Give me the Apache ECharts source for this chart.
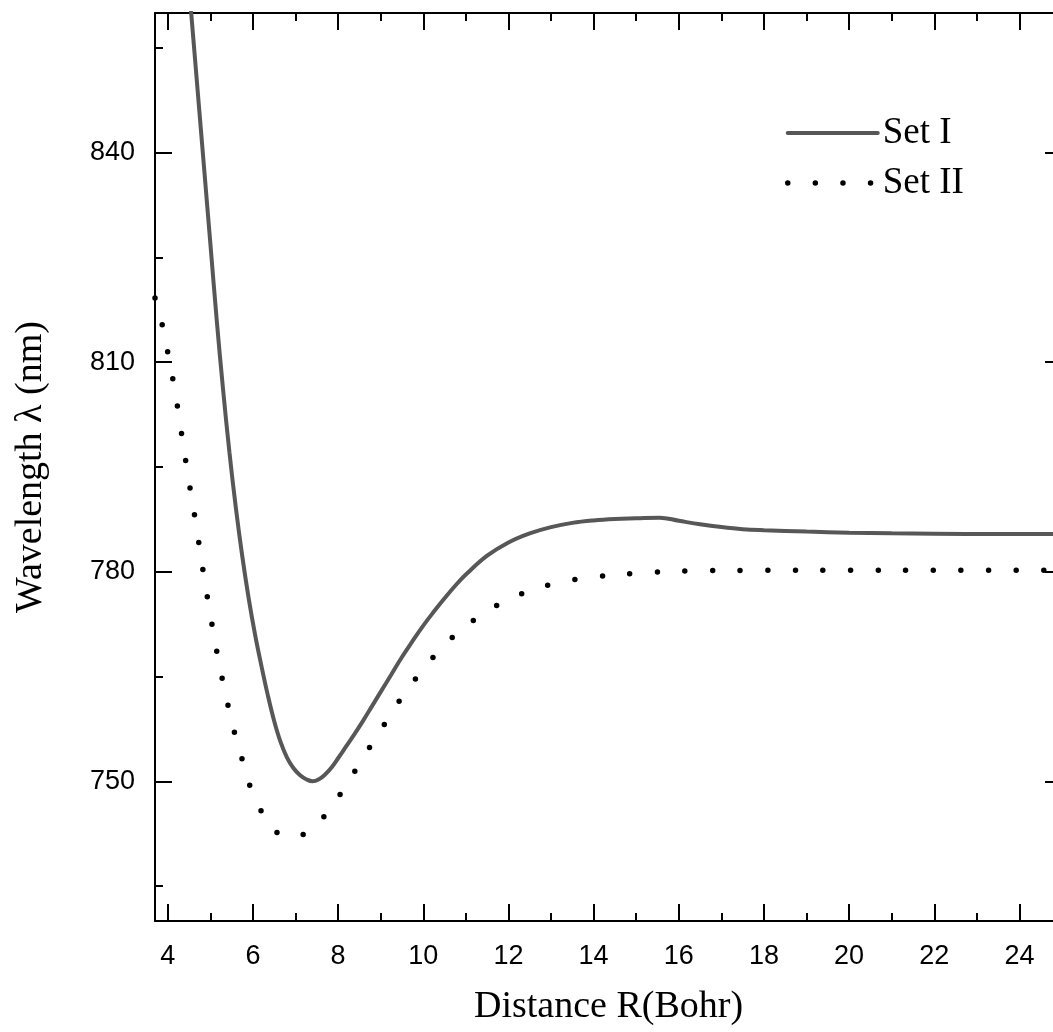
<!DOCTYPE html>
<html>
<head>
<meta charset="utf-8">
<script src="https://cdn.jsdelivr.net/npm/echarts@6/dist/echarts.min.js"></script>
<style>
html,body{margin:0;padding:0;background:#fff;}
#c{width:1053px;height:1032px;}
</style>
</head>
<body>
<div id="c"></div>
<script>
// ---- data ----
const seriesNames = ['Set I', 'Set II'];

const rSet1 = [4.40, 4.55, 4.70, 4.85, 5.00, 5.15, 5.30, 5.45, 5.60, 5.75, 5.90, 6.05, 6.20, 6.35, 6.50, 6.65, 6.80, 6.95, 7.10, 7.25, 7.40, 7.55, 7.70, 7.85, 8.00, 8.20, 8.40, 8.60, 8.80, 9.00, 9.25, 9.50, 9.75, 10.00, 10.25, 10.50, 10.75, 11.00, 11.50, 12.00, 12.50, 13.00, 13.50, 14.00, 14.50, 15.00, 15.55, 16.00, 16.50, 17.00, 17.50, 18.00, 19.00, 20.00, 21.00, 22.00, 23.50, 25.00];
const lamSet1 = [871, 860, 849, 838, 827, 816, 806.0, 797.0, 789.1, 782.2, 776.2, 771.0, 766.5, 762.3, 758.6, 755.6, 753.4, 751.9, 750.9, 750.3, 750.0, 750.3, 751.0, 752.0, 753.3, 755.1, 756.9, 758.8, 760.8, 762.8, 765.3, 767.8, 770.1, 772.3, 774.3, 776.2, 778.0, 779.6, 782.3, 784.2, 785.5, 786.4, 787.0, 787.35, 787.55, 787.65, 787.75, 787.3, 786.8, 786.4, 786.1, 785.95, 785.75, 785.6, 785.5, 785.45, 785.4, 785.4];

const rSet2 = [3.70, 3.84, 3.95, 4.05, 4.15, 4.31, 4.48, 4.66, 4.83, 4.97, 5.13, 5.21, 5.37, 5.54, 5.70, 5.83, 5.97, 6.15, 6.35, 6.69, 6.90, 7.12, 7.54, 7.83, 8.11, 8.56, 9.08, 9.53, 10.10, 10.63, 11.24, 12.06, 13.00, 14.09, 15.07, 16.18, 18.00, 20.00, 22.00, 25.00];
const lamSet2 = [819.2, 816.1, 813.1, 809.6, 806.6, 800.3, 793.6, 786.9, 780.1, 774.9, 769.3, 766.7, 762.1, 757.6, 754.2, 751.3, 748.7, 746.3, 744.1, 742.2, 742.0, 742.2, 744.1, 746.3, 748.7, 753.1, 758.1, 762.3, 766.8, 770.3, 773.3, 776.2, 778.2, 779.3, 779.8, 780.1, 780.2, 780.2, 780.2, 780.2];

const xMajorTicks = [4, 6, 8, 10, 12, 14, 16, 18, 20, 22, 24];
const xMinorTicks = [5, 7, 9, 11, 13, 15, 17, 19, 21, 23];
const yMajorTicks = [750, 780, 810, 840];
const yMinorTicks = [735, 765, 795, 825, 855];

const X_MIN = 3.7, X_MAX = 25;
const Y_MIN = 730, Y_MAX = 860;

// ---- chart ----
const chart = echarts.init(document.getElementById('c'), null, {renderer: 'canvas'});

const black = '#000';
const solidColor = '#575757';
function xAx(pos, ticks, len, showLine, showLabel) {
  return {
    type: 'value', position: pos, min: X_MIN, max: X_MAX, gridIndex: 0,
    axisLine: {show: showLine, onZero: false, lineStyle: {color: black, width: 2}},
    axisTick: {show: true, inside: true, length: len, customValues: ticks, lineStyle: {color: black, width: 2}},
    axisLabel: {show: showLabel, customValues: ticks, margin: 22, color: black,
      fontFamily: 'Liberation Sans, Arial, sans-serif', fontSize: 27},
    splitLine: {show: false}, minorTick: {show: false},
    name: showLabel ? 'Distance R(Bohr)' : '',
    nameLocation: 'middle', nameGap: 67,
    nameTextStyle: {fontFamily: 'Liberation Serif, Times New Roman, serif', fontSize: 38, color: black}
  };
}
function yAx(pos, ticks, len, showLine, showLabel) {
  return {
    type: 'value', position: pos, min: Y_MIN, max: Y_MAX, gridIndex: 0,
    axisLine: {show: showLine, onZero: false, lineStyle: {color: black, width: 2}},
    axisTick: {show: true, inside: true, length: len, customValues: ticks, lineStyle: {color: black, width: 2}},
    axisLabel: {show: showLabel, customValues: ticks, margin: 20, color: black,
      fontFamily: 'Liberation Sans, Arial, sans-serif', fontSize: 27},
    splitLine: {show: false}, minorTick: {show: false},
    name: showLabel ? 'Wavelength \u03bb (nm)' : '',
    nameLocation: 'middle', nameGap: 105,
    nameTextStyle: {fontFamily: 'Liberation Serif, Times New Roman, serif', fontSize: 38, color: black}
  };
}

const data1 = rSet1.map((r, i) => [r, lamSet1[i]]);
const data2 = rSet2.map((r, i) => [r, lamSet2[i]]);

const dotStyle = {color: '#000', width: 5.5, type: [0, 27.6], cap: 'round'};
const solidStyle = {color: solidColor, width: 4, cap: 'round'};

chart.setOption({
  animation: false,
  backgroundColor: '#fff',
  grid: {left: 155, top: 13, width: 907, height: 908, containLabel: false, outerBoundsMode: 'none'},
  legend: {
    orient: 'vertical', left: 785, top: 113, padding: 0,
    itemWidth: 90, itemHeight: 14, itemGap: 10,
    itemStyle: {opacity: 0, borderWidth: 0},
    data: [
      {name: seriesNames[0], lineStyle: solidStyle, itemStyle: {opacity: 0}},
      {name: seriesNames[1], lineStyle: dotStyle, itemStyle: {opacity: 0}}
    ],
    textStyle: {fontFamily: 'Liberation Serif, Times New Roman, serif', fontSize: 37, color: black, lineHeight: 40}
  },
  xAxis: [
    xAx('bottom', xMajorTicks, 17, true, true),
    xAx('bottom', xMinorTicks, 8, false, false),
    xAx('top', xMajorTicks, 17, true, false),
    xAx('top', xMinorTicks, 8, false, false)
  ],
  yAxis: [
    yAx('left', yMajorTicks, 17, true, true),
    yAx('left', yMinorTicks, 8, false, false),
    yAx('right', yMajorTicks, 17, true, false),
    yAx('right', yMinorTicks, 8, false, false)
  ],
  series: [
    {
      name: seriesNames[0], type: 'line', xAxisIndex: 0, yAxisIndex: 0,
      data: data1, showSymbol: false, symbol: 'none', smooth: 0.4, clip: true,
      lineStyle: solidStyle, itemStyle: {color: solidColor}
    },
    {
      name: seriesNames[1], type: 'line', xAxisIndex: 0, yAxisIndex: 0,
      data: data2, showSymbol: false, symbol: 'none', smooth: 0.4, clip: true,
      lineStyle: dotStyle, itemStyle: {color: '#000'}
    }
  ]
});
</script>
</body>
</html>
